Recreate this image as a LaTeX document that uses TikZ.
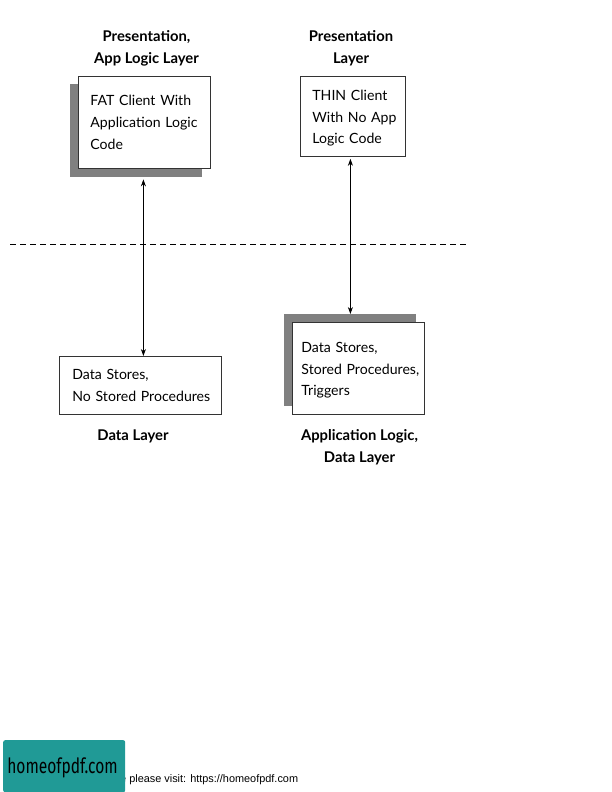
\documentclass[tikz,border=0pt]{standalone}
\usepackage{fontspec}
\usetikzlibrary{arrows.meta}
\setmainfont{Lato}
\newfontfamily\notefont{Liberation Sans}
\newfontfamily\stampfont{Fira Sans}
\definecolor{shadowgray}{gray}{0.5}
\definecolor{stampteal}{HTML}{209A96}
\newcommand{\toppad}{\rule{0pt}{14.5pt}}
\tikzset{
  tierbox/.style={draw=black!80, line width=0.8pt, fill=white, align=left, anchor=north west,
    inner xsep=12pt, inner ysep=0pt, font=\fontsize{14.1}{21.6}\selectfont},
  tiershadow/.style={fill=shadowgray, anchor=north west, inner sep=0pt},
  tierlabel/.style={align=center, inner sep=0pt, font=\fontsize{14.8}{21.6}\selectfont\bfseries},
  duplex/.style={{Stealth[length=7pt,width=5pt]}-{Stealth[length=7pt,width=5pt]}, line width=0.7pt}
}
\begin{document}
\begin{tikzpicture}[x=1pt, y=-1pt]
    \useasboundingbox (0,0) rectangle (612,792);

    % upper left tier
    \node[tiershadow, minimum width=132pt, minimum height=93pt] (fatshadow) at (70,84) {};
    \node[tierbox, minimum height=92pt, text width=108pt] (fatclient) at (78,76)
      {\mbox{FAT Client With}\\\mbox{Application Logic}\\Code};
    \node[tierlabel] (fatlabel) at (146.5,48.5) {Presentation,\\App Logic Layer};

    % upper right tier
    \node[tierbox, minimum height=80pt, text width=80pt, inner xsep=12.5pt] (thinclient) at (299.5,76)
      {\toppad\mbox{THIN Client}\\\mbox{With No App}\\\mbox{Logic Code}};
    \node[tierlabel] (thinlabel) at (351,48.5) {Presentation\\Layer};

    % lower left tier
    \node[tierbox, minimum height=58pt, text width=136pt, inner xsep=13pt] (datastores) at (59,356)
      {Data Stores,\\\mbox{No Stored Procedures}};
    \node[tierlabel] (datalabel) at (133,436) {Data Layer};

    % lower right tier
    \node[tiershadow, minimum width=132pt, minimum height=92pt] (appshadow) at (284,314) {};
    \node[tierbox, minimum height=92pt, text width=114pt, inner xsep=9pt] (appstores) at (292,322)
      {\toppad Data Stores,\\\mbox{Stored Procedures,}\\Triggers};
    \node[tierlabel] (applabel) at (359.5,447) {Application Logic,\\Data Layer};

    % client/server boundary
    \coordinate (lineleft) at (10,244);
    \coordinate (lineright) at (466,244);
    \draw[dashed, dash pattern=on 6pt off 4pt, line width=0.7pt] (lineleft) -- (lineright);

    \draw[duplex] ([xshift=-1pt]fatshadow.south -| fatclient.south) ++(0,2) -- ([xshift=-1pt]fatclient.south |- datastores.north);
    \draw[duplex, shorten <=2pt] ([xshift=-2pt]thinclient.south) -- ([xshift=-2pt]thinclient.south |- appshadow.north);

    % stamp at the foot of the page
    \node[anchor=base west, inner sep=0pt, font=\notefont\fontsize{10.9}{14}\selectfont] (visitnote) at (120,782)
      {e please visit: https://homeofpdf.com};
    \node[fill=stampteal, rounded corners=2pt, anchor=north west, inner sep=0pt,
      minimum width=122pt, minimum height=52pt] (stampbox) at (3,740) {};
    \node[font=\stampfont\fontsize{21}{24}\selectfont, inner sep=0pt] (stamptext) at (62.5,768) {\scalebox{0.74}[1]{homeofpdf.com}};
\end{tikzpicture}
\end{document}
